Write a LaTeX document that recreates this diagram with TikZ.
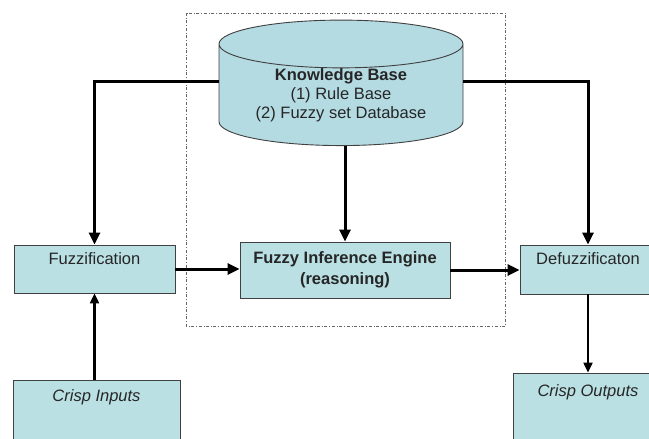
\documentclass[tikz,border=0pt]{standalone}
\usepackage{fontspec}
\setmainfont{Liberation Sans}
\usetikzlibrary{shapes.geometric,arrows.meta}
\definecolor{boxfill}{RGB}{186,224,228}
\definecolor{kbfill}{RGB}{180,218,226}
\begin{document}
\begin{tikzpicture}[x=1pt,y=-1pt]
    \tikzstyle{block}=[draw=black!75,fill=boxfill,line width=0.9pt,inner sep=0pt,
        font=\fontsize{16.5}{19}\selectfont,text=black!85]
    \tikzstyle{flow}=[line width=3pt,-{Triangle[length=12pt,width=11pt]}]
    \tikzstyle{thinflow}=[line width=2.2pt,-{Triangle[length=10pt,width=9pt]}]
    \clip (0,0) rectangle (649,439);
    % Inference area
    \draw[black!60,dash dot,line width=0.7pt] (186,13) rectangle (505,326);
    % Knowledge base
    \node[block,cylinder,shape border rotate=90,aspect=0.28,minimum height=105pt,
        minimum width=244pt,fill=kbfill,align=center] (kb) at (341,95)
        {\textbf{Knowledge Base}\\(1) Rule Base\\(2) Fuzzy set Database};
    % Blocks
    \node[block,minimum width=161pt,minimum height=48pt,text height=12pt,text depth=22pt] (fuzz) at (94.5,269) {Fuzzification};
    \node[block,minimum width=210pt,minimum height=56pt,align=center,font=\fontsize{16.5}{21}\selectfont\bfseries] (inf) at (345,270) {Fuzzy Inference Engine\\(reasoning)};
    \node[block,minimum width=136pt,minimum height=49pt,text height=12pt,text depth=22pt] (defuzz) at (588,269.5) {Defuzzificaton};
    \node[block,minimum width=167pt,minimum height=70pt,text height=12pt,text depth=40pt,font=\fontsize{16.5}{19}\selectfont\itshape] (cin) at (96.5,415) {Crisp Inputs};
    \node[block,minimum width=150pt,minimum height=70pt,text height=12pt,text depth=36pt,font=\fontsize{16.5}{19}\selectfont\itshape] (cout) at (588,408) {Crisp Outputs};
    % Arrows
    \draw[flow] ([yshift=13pt]kb.west) -| (fuzz.north);
    \draw[flow] ([yshift=13pt]kb.east) -| (defuzz.north);
    \draw[flow] (inf.north |- kb.south) -- (inf.north);
    \draw[flow] (fuzz.east) -- (fuzz.east -| inf.west);
    \draw[flow] (inf.east) -- (inf.east -| defuzz.west);
    \draw[thinflow] (fuzz.south |- cin.north) -- (fuzz.south);
    \draw[thinflow] (defuzz.south) -- (defuzz.south |- cout.north);
\end{tikzpicture}
\end{document}
